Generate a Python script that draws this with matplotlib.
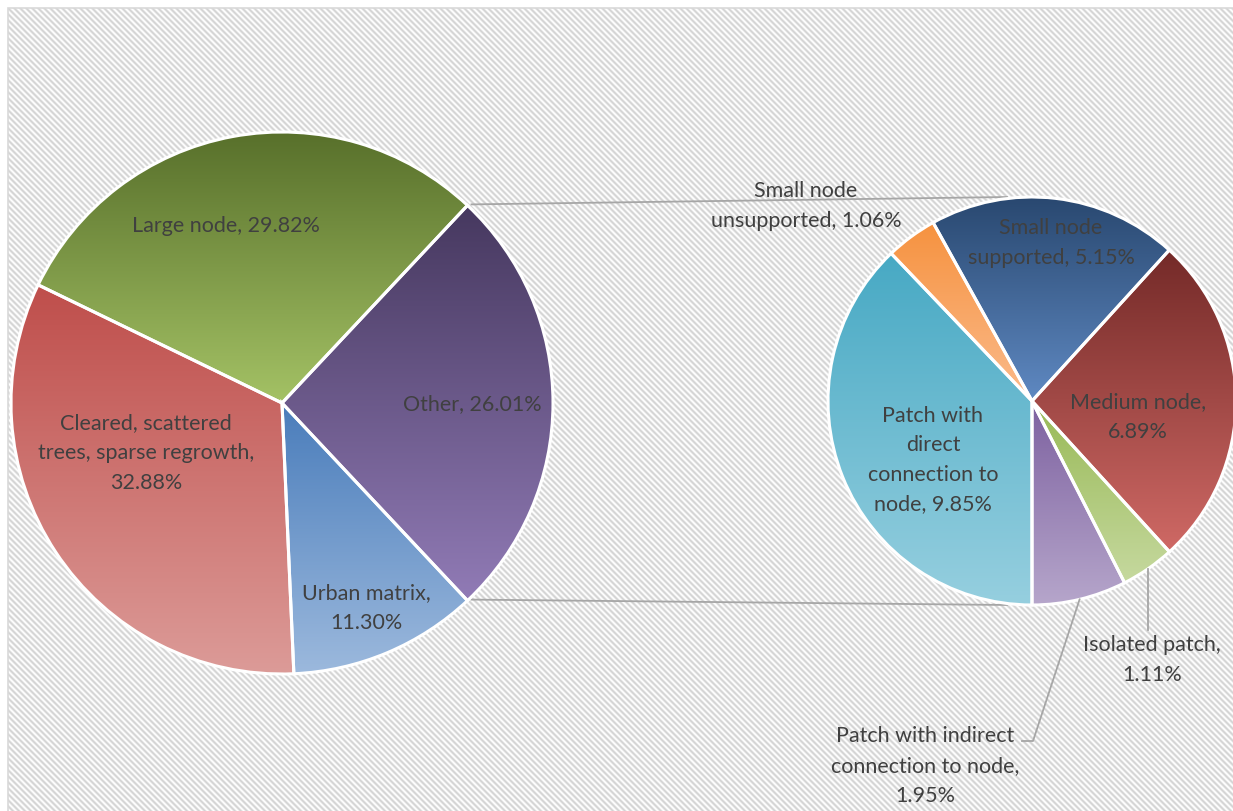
import numpy as np
import matplotlib.pyplot as plt
from matplotlib.colors import LinearSegmentedColormap
from matplotlib.patches import Rectangle

plt.rcParams['font.family'] = ['Lato', 'DejaVu Sans']

W, H = 1233, 811

# main pie (counterclockwise, "Other" centred on the right)
main_names = ['Large node', 'Cleared, scattered\ntrees, sparse regrowth', 'Urban matrix', 'Other']
main_values = [29.82, 32.88, 11.30, 26.01]
# breakdown of "Other" (counterclockwise from the bottom)
sub_names = ['Patch with indirect\nconnection to node', 'Isolated patch', 'Medium node',
             'Small node\nsupported', 'Small node\nunsupported', 'Patch with\ndirect\nconnection to\nnode']
sub_values = [1.95, 1.11, 6.89, 5.15, 1.06, 9.85]

# gradient colours, top -> bottom
main_colors = [('#58702b', '#a4c265'), ('#bf4e4b', '#dc9b98'), ('#4a7dbb', '#9cb9dd'), ('#46385f', '#917bb6')]
sub_colors = [('#7d61a0', '#b6a6cb'), ('#98b956', '#c6d99f'), ('#742a28', '#cf6965'),
              ('#294870', '#5f89c2'), ('#f6923f', '#fbbb8c'), ('#47a9c4', '#96cfdf')]

# layout, in pixels from the top-left corner
c1, r1 = (282, 403), 271
c2, r2 = (1032, 401), 204
main_seps = [', ', ',\n', ',\n', ', ']
sub_seps = [',\n', ',\n', ',\n', ', ', ', ', ', ']
main_pos = [(226, 226), (146, 453), (366, 608), (472, 404)]
sub_pos = [(925, 766), (1152, 660), (1138, 417), (1051, 243), (806, 206), (933, 460)]

TXT = '#404040'
LINE = '#a6a6a6'
FS = 15.5
LS = 1.6


def fy(y):
    return H - y


fig = plt.figure(figsize=(W / 100, H / 100), dpi=100)
ax = fig.add_axes([0, 0, 1, 1])

# striped chart area
yy, xx = np.mgrid[0:H - 8, 0:W - 8]
stripes = 0.5 + 0.5 * np.cos(2 * np.pi * (xx - yy) / 6.0)
bg = LinearSegmentedColormap.from_list('bg', ['#ffffff', '#d3d3d3'])
ax.imshow(stripes, cmap=bg, extent=(8, W, 0, H - 8), origin='upper',
          interpolation='nearest', zorder=0)
ax.add_patch(Rectangle((8, -5), W, H - 3, fill=False, ec='#d9d9d9', lw=1.2, zorder=1))


def gradient_pie(values, center, radius, start, colors):
    wedges, _ = ax.pie(values, center=(center[0], fy(center[1])), radius=radius,
                       startangle=start, counterclock=True, frame=True,
                       wedgeprops=dict(edgecolor='white', linewidth=2.2))
    grad = np.linspace(0, 1, 256).reshape(-1, 1)
    for w, (top, bot) in zip(wedges, colors):
        ext = w.get_path().get_extents()
        cm = LinearSegmentedColormap.from_list('g', [top, bot])
        im = ax.imshow(grad, cmap=cm, extent=(ext.x0, ext.x1, ext.y0, ext.y1),
                       origin='upper', aspect='auto', zorder=2)
        im.set_clip_path(w)
        w.set_facecolor('none')
        w.set_zorder(3)
    return wedges


other_angle = main_values[-1] / sum(main_values) * 360
w1 = gradient_pie(main_values, c1, r1, other_angle / 2, main_colors)
w2 = gradient_pie(sub_values, c2, r2, -90, sub_colors)

# connector lines between the pies
a = np.radians(other_angle / 2)
p_top = (c1[0] + r1 * np.cos(a), fy(c1[1]) + r1 * np.sin(a))
p_bot = (c1[0] + r1 * np.cos(a), fy(c1[1]) - r1 * np.sin(a))
ax.plot([p_top[0] + 4, c2[0] - 25], [p_top[1] + 1, fy(c2[1]) + r2], color=LINE, lw=1.3, zorder=1.5)
ax.plot([p_bot[0] + 4, c2[0] - 25], [p_bot[1] + 1, fy(c2[1]) - r2], color=LINE, lw=1.3, zorder=1.5)

# leader lines for the two small bottom slices
for w, ends in [(w2[1], [(None, 630)]), (w2[0], [(1033, 741), (1022, 741)])]:
    mid = np.radians((w.theta1 + w.theta2) / 2)
    x0, y0 = c2[0] + r2 * np.cos(mid), fy(c2[1]) + r2 * np.sin(mid)
    xs, ys = [x0], [y0]
    for ex, ey in ends:
        xs.append(x0 if ex is None else ex)
        ys.append(fy(ey))
    ax.plot(xs, ys, color=LINE, lw=1.3, zorder=4)

for name, v, sep, (x, y) in zip(main_names, main_values, main_seps, main_pos):
    ax.text(x, fy(y), f'{name}{sep}{v:.2f}%', ha='center', va='center', fontsize=FS,
            color=TXT, linespacing=LS, zorder=5)
for name, v, sep, (x, y) in zip(sub_names, sub_values, sub_seps, sub_pos):
    ax.text(x, fy(y), f'{name}{sep}{v:.2f}%', ha='center', va='center', fontsize=FS,
            color=TXT, linespacing=LS, zorder=5)

ax.set_xlim(0, W)
ax.set_ylim(0, H)
ax.set_aspect('auto')
ax.axis('off')

fig.savefig('out.png', dpi=100)
